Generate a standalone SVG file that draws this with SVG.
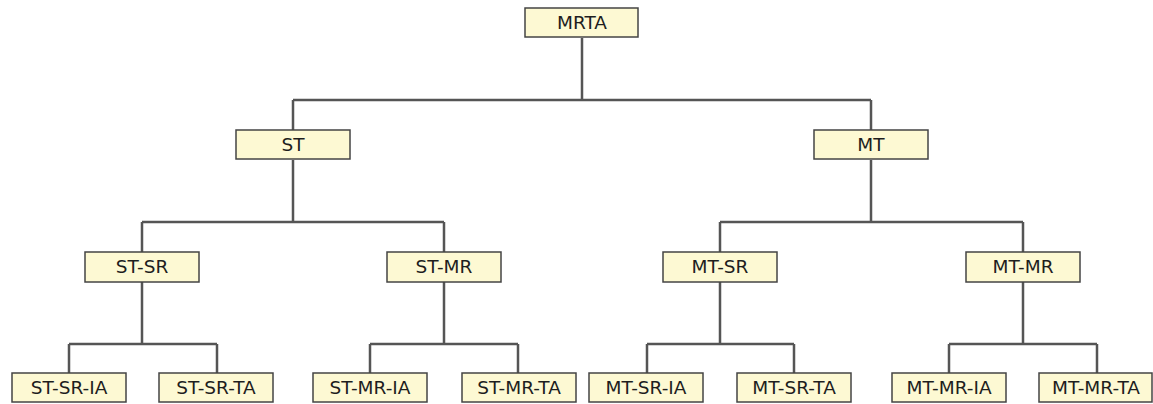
<svg xmlns="http://www.w3.org/2000/svg" width="1153" height="404" viewBox="0 0 1153 404">
  <style>
    .box { fill: #fdf9d3; stroke: #444; stroke-width: 1.5; }
    .lbl { font-family: "DejaVu Sans", sans-serif; font-size: 18.5px; fill: #1e1e1e; text-anchor: middle; }
    .wire { fill: none; stroke: #555; stroke-width: 2.5; }
  </style>
  <rect width="1153" height="404" fill="#ffffff"/>

  <!-- tree connectors -->
  <g id="connectors" class="wire">
    <path d="M582 38 V100 M293 100 H871 M293 100 V130 M871 100 V130"/>
    <path d="M293 160 V222 M142 222 H444 M142 222 V252 M444 222 V252"/>
    <path d="M871 160 V222 M720 222 H1023 M720 222 V252 M1023 222 V252"/>
    <path d="M142 282 V344 M69 344 H217 M69 344 V373 M217 344 V373"/>
    <path d="M444 282 V344 M370 344 H518 M370 344 V373 M518 344 V373"/>
    <path d="M720 282 V344 M647 344 H794 M647 344 V373 M794 344 V373"/>
    <path d="M1023 282 V344 M949 344 H1097 M949 344 V373 M1097 344 V373"/>
  </g>

  <g id="MRTA"><rect class="box" x="525" y="8" width="113" height="29"/><text class="lbl" x="582" y="29">MRTA</text></g>

  <g id="ST"><rect class="box" x="236" y="130" width="114" height="29"/><text class="lbl" x="293" y="151">ST</text></g>
  <g id="MT"><rect class="box" x="814" y="130" width="114" height="29"/><text class="lbl" x="871" y="151">MT</text></g>

  <g id="ST-SR"><rect class="box" x="85" y="252" width="114" height="30"/><text class="lbl" x="142" y="273">ST-SR</text></g>
  <g id="ST-MR"><rect class="box" x="387" y="252" width="114" height="30"/><text class="lbl" x="444" y="273">ST-MR</text></g>
  <g id="MT-SR"><rect class="box" x="663" y="252" width="114" height="30"/><text class="lbl" x="720" y="273">MT-SR</text></g>
  <g id="MT-MR"><rect class="box" x="966" y="252" width="114" height="30"/><text class="lbl" x="1023" y="273">MT-MR</text></g>

  <g id="ST-SR-IA"><rect class="box" x="12" y="373" width="114" height="29"/><text class="lbl" x="69" y="394">ST-SR-IA</text></g>
  <g id="ST-SR-TA"><rect class="box" x="159" y="373" width="114" height="29"/><text class="lbl" x="216" y="394">ST-SR-TA</text></g>
  <g id="ST-MR-IA"><rect class="box" x="313" y="373" width="114" height="29"/><text class="lbl" x="370" y="394">ST-MR-IA</text></g>
  <g id="ST-MR-TA"><rect class="box" x="462" y="373" width="114" height="29"/><text class="lbl" x="519" y="394">ST-MR-TA</text></g>
  <g id="MT-SR-IA"><rect class="box" x="589" y="373" width="114" height="29"/><text class="lbl" x="646" y="394">MT-SR-IA</text></g>
  <g id="MT-SR-TA"><rect class="box" x="737" y="373" width="114" height="29"/><text class="lbl" x="794" y="394">MT-SR-TA</text></g>
  <g id="MT-MR-IA"><rect class="box" x="892" y="373" width="114" height="29"/><text class="lbl" x="949" y="394">MT-MR-IA</text></g>
  <g id="MT-MR-TA"><rect class="box" x="1039" y="373" width="113" height="29"/><text class="lbl" x="1096" y="394">MT-MR-TA</text></g>
</svg>
